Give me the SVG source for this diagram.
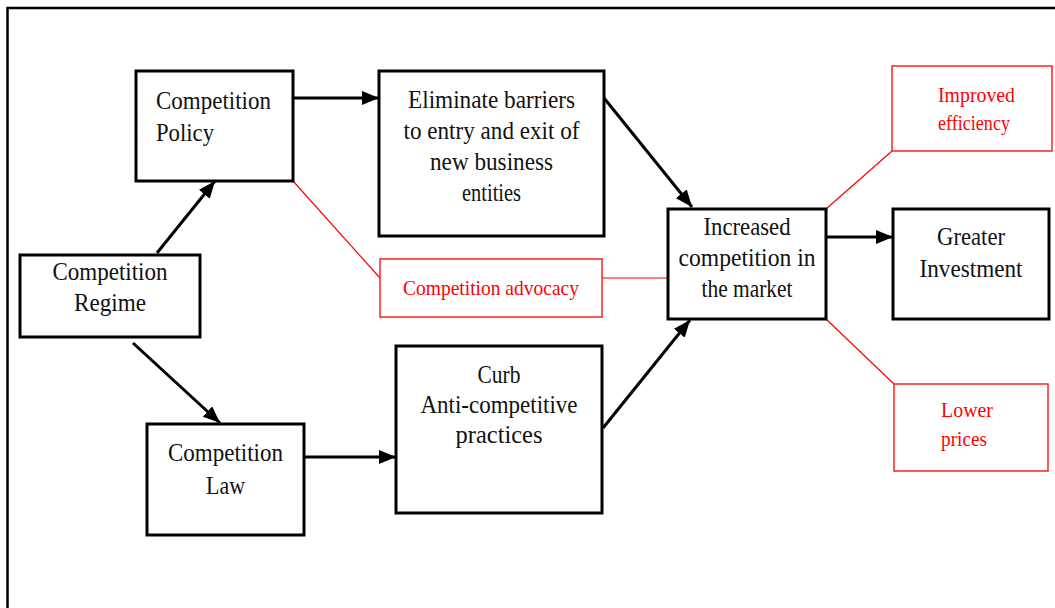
<svg xmlns="http://www.w3.org/2000/svg" width="1055" height="608" viewBox="0 0 1055 608">
<defs>
<marker id="ah" markerUnits="userSpaceOnUse" markerWidth="18" markerHeight="14" refX="17" refY="7" orient="auto"><path d="M0,0 L17,7 L0,14 z" fill="#000"/></marker>
</defs>
<style>
.box{fill:#fff;stroke:#000;stroke-width:3}
.rbox{fill:#fff;stroke:#ff2020;stroke-width:1.5}
.t{font-family:"Liberation Serif","Times New Roman",serif;font-size:26px;fill:#111}
.c{text-anchor:middle}
.rt{font-family:"Liberation Serif","Times New Roman",serif;font-size:21px;fill:#f00}
.arr{stroke:#000;stroke-width:3;fill:none;marker-end:url(#ah)}
.rl{stroke:#f00;stroke-width:1.2;fill:none}
</style>
<rect x="7.5" y="8" width="1060" height="620" fill="none" stroke="#000" stroke-width="2.5"/>

<g id="connectors">
<path class="rl" d="M293,181 L380,278"/>
<path class="rl" d="M602,278 L668,278"/>
<path class="rl" d="M826,209 L892,151"/>
<path class="rl" d="M826,319 L894,384"/>
<path class="arr" d="M157,253 L215,181"/>
<path class="arr" d="M293,98 L379,98"/>
<path class="arr" d="M604,98 L692,207"/>
<path class="arr" d="M133,343 L220,423"/>
<path class="arr" d="M304,457 L396,457"/>
<path class="arr" d="M603,428 L690,320"/>
<path class="arr" d="M826,237 L893,237"/>
</g>

<g id="policy">
<rect class="box" x="136" y="71" width="157" height="110"/>
<text class="t" x="156" y="109" textLength="115" lengthAdjust="spacingAndGlyphs">Competition</text>
<text class="t" x="156" y="141" textLength="58" lengthAdjust="spacingAndGlyphs">Policy</text>
</g>
<g id="regime">
<rect class="box" x="20" y="255" width="180" height="82"/>
<text class="t c" x="110" y="280" textLength="115" lengthAdjust="spacingAndGlyphs">Competition</text>
<text class="t c" x="110" y="311" textLength="72" lengthAdjust="spacingAndGlyphs">Regime</text>
</g>
<g id="law">
<rect class="box" x="147" y="424" width="157" height="111"/>
<text class="t c" x="225.5" y="461" textLength="115" lengthAdjust="spacingAndGlyphs">Competition</text>
<text class="t c" x="225.5" y="494" textLength="39" lengthAdjust="spacingAndGlyphs">Law</text>
</g>
<g id="eliminate">
<rect class="box" x="379" y="71" width="225" height="165"/>
<text class="t c" x="491.5" y="108" textLength="167" lengthAdjust="spacingAndGlyphs">Eliminate barriers</text>
<text class="t c" x="491.5" y="139" textLength="176" lengthAdjust="spacingAndGlyphs">to entry and exit of</text>
<text class="t c" x="491.5" y="170" textLength="123" lengthAdjust="spacingAndGlyphs">new business</text>
<text class="t c" x="491.5" y="201" textLength="59" lengthAdjust="spacingAndGlyphs">entities</text>
</g>
<g id="curb">
<rect class="box" x="396" y="346" width="206" height="167"/>
<text class="t c" x="499" y="383" textLength="43" lengthAdjust="spacingAndGlyphs">Curb</text>
<text class="t c" x="499" y="413" textLength="157" lengthAdjust="spacingAndGlyphs">Anti-competitive</text>
<text class="t c" x="499" y="443" textLength="87" lengthAdjust="spacingAndGlyphs">practices</text>
</g>
<g id="increased">
<rect class="box" x="668" y="209" width="158" height="110"/>
<text class="t c" x="747" y="235" textLength="87" lengthAdjust="spacingAndGlyphs">Increased</text>
<text class="t c" x="747" y="266" textLength="137" lengthAdjust="spacingAndGlyphs">competition in</text>
<text class="t c" x="747" y="297" textLength="91" lengthAdjust="spacingAndGlyphs">the market</text>
</g>
<g id="greater">
<rect class="box" x="893" y="209" width="156" height="110"/>
<text class="t c" x="971" y="245" textLength="68" lengthAdjust="spacingAndGlyphs">Greater</text>
<text class="t c" x="971" y="277" textLength="103" lengthAdjust="spacingAndGlyphs">Investment</text>
</g>
<g id="advocacy">
<rect class="rbox" x="380" y="259" width="222" height="58"/>
<text class="rt c" x="491" y="295" textLength="176" lengthAdjust="spacingAndGlyphs">Competition advocacy</text>
</g>
<g id="efficiency">
<rect class="rbox" x="892" y="66" width="160" height="85"/>
<text class="rt" x="938" y="102" textLength="77" lengthAdjust="spacingAndGlyphs">Improved</text>
<text class="rt" x="938" y="130" textLength="72" lengthAdjust="spacingAndGlyphs">efficiency</text>
</g>
<g id="prices">
<rect class="rbox" x="894" y="384" width="154" height="87"/>
<text class="rt" x="941" y="417" textLength="52" lengthAdjust="spacingAndGlyphs">Lower</text>
<text class="rt" x="941" y="446" textLength="46" lengthAdjust="spacingAndGlyphs">prices</text>
</g>
</svg>
